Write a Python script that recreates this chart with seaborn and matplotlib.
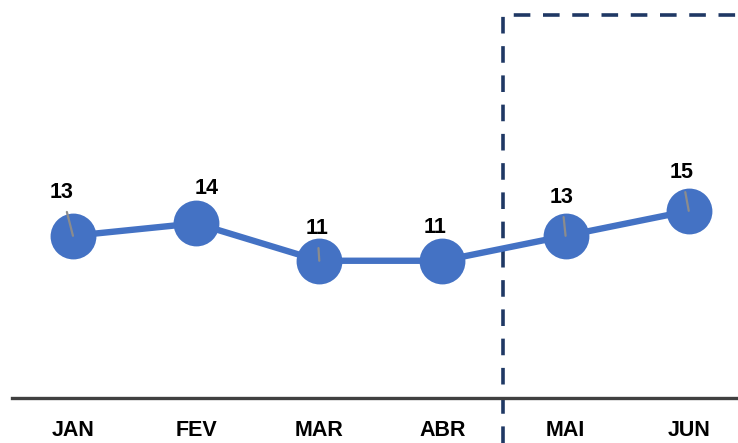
import matplotlib
matplotlib.use("Agg")
import matplotlib.pyplot as plt
import seaborn as sns

months = ["JAN", "FEV", "MAR", "ABR", "MAI", "JUN"]
values = [13, 14, 11, 11, 13, 15]

# label placement (pixels from the point) and whether a leader line is drawn
label_offsets = [(-11, 43), (11, 35), (-2, 32), (-7, 33), (-4, 38), (-7, 38)]
show_leader = [True, False, True, False, True, True]

sns.set_style("white")
plt.rcParams["font.family"] = ["Liberation Sans Narrow", "Liberation Sans", "DejaVu Sans"]

blue = "#4472C4"
navy = "#1F3864"

fig = plt.figure(figsize=(7.38, 4.43), dpi=100)
ax = fig.add_axes([12 / 738, 45 / 443, 1 - 12 / 738, 398 / 443])

sns.pointplot(x=months, y=values, color=blue, markers="o", markersize=33,
              linewidth=4.6, markeredgewidth=0, errorbar=None, ax=ax)

ax.set_xlim(-0.495, 5.40)
ax.set_ylim(0, 31.9)

for i, (v, off, lead) in enumerate(zip(values, label_offsets, show_leader)):
    arrow = None
    if lead:
        arrow = dict(arrowstyle="-", color="#8c8c8c", lw=1.6, shrinkA=4, shrinkB=0)
    ax.annotate(str(v), xy=(i, v), xytext=off, textcoords="offset pixels",
                ha="center", va="center", fontsize=15.5, fontweight="bold",
                color="black", arrowprops=arrow, zorder=6)

# forecast box (dashed)
ax.plot([3.49, 3.49, 5.6], [-3.6, 30.7, 30.7], color=navy, lw=2.6,
        linestyle=(0, (4.6, 3.5)), clip_on=False, zorder=1)

for s in ["top", "left", "right"]:
    ax.spines[s].set_visible(False)
ax.spines["bottom"].set_color("#404040")
ax.spines["bottom"].set_linewidth(2.4)
ax.set_yticks([])
ax.tick_params(axis="x", length=0, pad=16, labelsize=15.5, labelcolor="black")
for lab in ax.get_xticklabels():
    lab.set_fontweight("bold")
ax.set_xlabel("")
ax.set_ylabel("")

fig.savefig("out.png", dpi=100)
